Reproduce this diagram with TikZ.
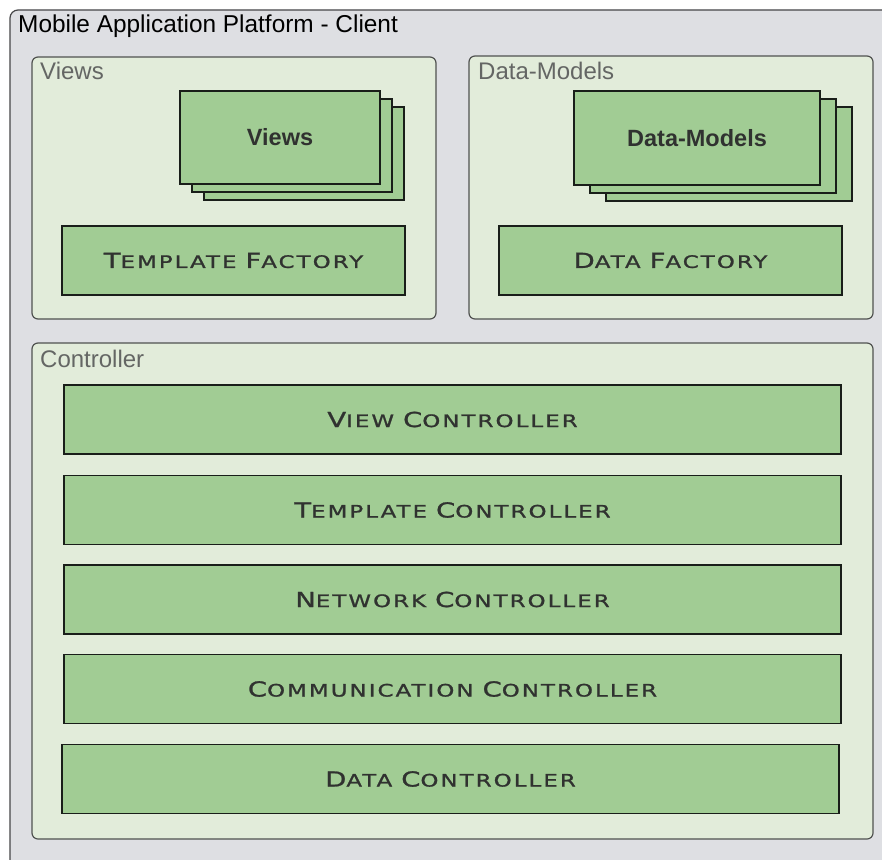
\documentclass[tikz,border=0pt]{standalone}
\usepackage{fontspec}
\setmainfont{Liberation Sans}
\newfontfamily\capfont[FakeStretch=1.33,FakeBold=1.2,LetterSpace=12]{DejaVu Sans}

% colours
\definecolor{outerfill}{RGB}{222,223,227}
\definecolor{outerline}{RGB}{70,70,72}
\definecolor{panelfill}{RGB}{226,236,218}
\definecolor{panelline}{RGB}{80,82,80}
\definecolor{boxfill}{RGB}{161,204,148}
\definecolor{boxline}{RGB}{25,30,25}
\definecolor{labelgray}{RGB}{100,102,100}
\definecolor{textdark}{RGB}{48,50,48}

% fake small caps: large initial, smaller remaining capitals
\newcommand\scinitial[1]{{\fontsize{20.7}{20.7}\selectfont #1}}
\newcommand\screst[1]{{\fontsize{17.2}{17.2}\selectfont #1}}
\newcommand\scword[2]{\scinitial{#1}\screst{#2}}
\newcommand\scgap{\hspace{9pt}}

\tikzset{
  panel/.style={draw=panelline, line width=1.2pt, fill=panelfill,
    rounded corners=6pt, inner sep=0pt, minimum width=#1},
  panellabel/.style={anchor=base west, inner sep=0pt, text=labelgray,
    font=\fontsize{24}{24}\selectfont},
  gbox/.style={draw=boxline, line width=1.1pt, fill=boxfill, inner sep=0pt},
  sclabel/.style={gbox, text=textdark, font=\capfont},
  stacklabel/.style={gbox, text=textdark, font=\bfseries\fontsize{23.5}{23.5}\selectfont},
}

\begin{document}
\begin{tikzpicture}[x=1pt, y=-1pt]
  \useasboundingbox (0,0) rectangle (882,859);
  \clip (0,0) rectangle (882,859);
  \fill[white] (0,0) rectangle (882,859);

  % platform frame (runs past the right and bottom edges)
  \draw[draw=outerline, line width=1.2pt, fill=outerfill, rounded corners=8pt]
    (10,10) rectangle (910,890);
  \node[anchor=base west, inner sep=0pt, font=\fontsize{24.4}{24.4}\selectfont]
    (title) at (18,32.5) {Mobile Application Platform - Client};

  % Views panel
  \node[panel=404pt, minimum height=262pt] (viewspanel) at (234,188) {};
  \node[panellabel] (viewslabel) at (40,79) {Views};
  \node[gbox, minimum width=200pt, minimum height=93pt] (views3) at (304,153.5) {};
  \node[gbox, minimum width=200pt, minimum height=93pt] (views2) at (292,145.5) {};
  \node[stacklabel, minimum width=200pt, minimum height=93pt] (views1) at (280,137.5) {Views};
  \node[sclabel, minimum width=343pt, minimum height=69pt] (tplfactory) at (233.5,260.5)
    {\scword{T}{EMPLATE}\scgap\scword{F}{ACTORY}};

  % Data-Models panel
  \node[panel=404pt, minimum height=263pt] (datapanel) at (671,187.5) {};
  \node[panellabel] (datalabel) at (478,79) {Data-Models};
  \node[gbox, minimum width=246pt, minimum height=94pt] (models3) at (729,154) {};
  \node[gbox, minimum width=246pt, minimum height=94pt] (models2) at (713,146) {};
  \node[stacklabel, minimum width=246pt, minimum height=94pt] (models1) at (697,138) {Data-Models};
  \node[sclabel, minimum width=343pt, minimum height=69pt] (datafactory) at (670.5,260.5)
    {\scword{D}{ATA}\scgap\scword{F}{ACTORY}};

  % Controller panel
  \node[panel=841pt, minimum height=496pt] (ctrlpanel) at (452.5,591) {};
  \node[panellabel] (ctrllabel) at (40,367) {Controller};
  \node[sclabel, minimum width=777pt, minimum height=69pt] (viewctrl) at (452.5,419.5)
    {\scword{V}{IEW}\scgap\scword{C}{ONTROLLER}};
  \node[sclabel, minimum width=777pt, minimum height=69pt] (tplctrl) at (452.5,510)
    {\scword{T}{EMPLATE}\scgap\scword{C}{ONTROLLER}};
  \node[sclabel, minimum width=777pt, minimum height=69pt] (netctrl) at (452.5,599.5)
    {\scword{N}{ETWORK}\scgap\scword{C}{ONTROLLER}};
  \node[sclabel, minimum width=777pt, minimum height=69pt] (commctrl) at (452.5,689)
    {\scword{C}{OMMUNICATION}\scgap\scword{C}{ONTROLLER}};
  \node[sclabel, minimum width=777pt, minimum height=69pt] (datactrl) at (450.5,779)
    {\scword{D}{ATA}\scgap\scword{C}{ONTROLLER}};
\end{tikzpicture}
\end{document}
